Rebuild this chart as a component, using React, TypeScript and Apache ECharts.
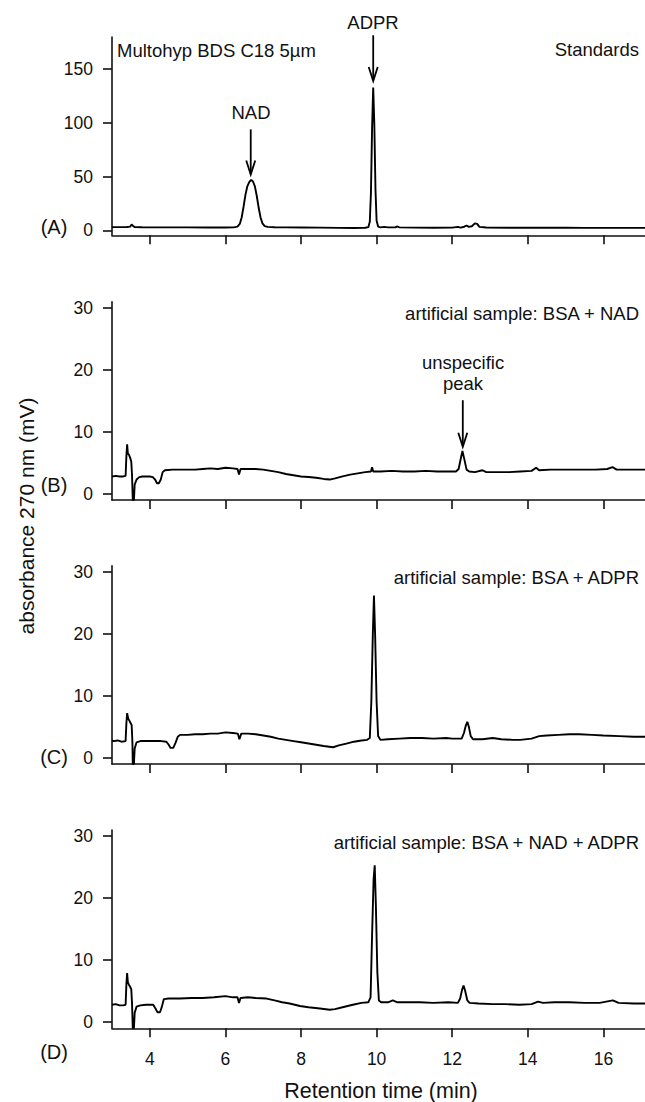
import React, { useEffect, useRef } from "react";
import * as echarts from "echarts";

// ---- data ----
const xTicks = [4, 6, 8, 10, 12, 14, 16];
const yTicksA = [0, 50, 100, 150];
const yTicksBCD = [0, 10, 20, 30];
const panelLabels = ["(A)", "(B)", "(C)", "(D)"];
const panelTitles = [
  "Standards",
  "artificial sample: BSA + NAD",
  "artificial sample: BSA + ADPR",
  "artificial sample: BSA + NAD + ADPR",
];

const traceA: number[][] = [
  [3.0, 3.0], [3.2, 3.0], [3.4, 3.1], [3.48, 3.5], [3.52, 5.5], [3.56, 4.0], [3.6, 3.0], [3.8, 2.9],
  [4.2, 2.8], [4.6, 2.8], [5.0, 2.8], [5.5, 2.7], [6.0, 2.7], [6.22, 2.8], [6.32, 3.5], [6.38, 6],
  [6.43, 12], [6.48, 22], [6.53, 33], [6.58, 41], [6.63, 45], [6.68, 47], [6.73, 45.5], [6.78, 41],
  [6.83, 32], [6.88, 21], [6.93, 12], [6.98, 6.5], [7.04, 4], [7.12, 3.2], [7.3, 2.9], [7.6, 2.8],
  [8.0, 2.7], [8.5, 2.5], [9.0, 2.3], [9.4, 2.2], [9.7, 2.4], [9.78, 3.0], [9.82, 8], [9.85, 35],
  [9.88, 95], [9.91, 133], [9.94, 98], [9.97, 38], [10.0, 9], [10.04, 3.5], [10.1, 2.8], [10.2, 3.2],
  [10.3, 2.8], [10.5, 2.9], [10.55, 3.6], [10.6, 2.8], [11.0, 2.5], [11.5, 2.4], [12.0, 2.5],
  [12.15, 3.2], [12.22, 2.6], [12.32, 3.4], [12.38, 4.5], [12.44, 3.2], [12.52, 3.8], [12.6, 6.5],
  [12.66, 6.0], [12.72, 3.2], [12.9, 2.6], [13.5, 2.4], [14.0, 2.5], [14.5, 2.4], [15.0, 2.4],
  [15.5, 2.3], [16.0, 2.3], [16.5, 2.3], [17.1, 2.3],
];

const traceB: number[][] = [
  [3.0, 2.8], [3.1, 2.9], [3.2, 2.8], [3.3, 2.8], [3.36, 2.9], [3.38, 6], [3.4, 8.0], [3.42, 6.5],
  [3.45, 6.3], [3.48, 5.8], [3.51, 5.2], [3.53, 3], [3.55, -1], [3.58, -1], [3.6, 1.5], [3.65, 2.3],
  [3.72, 2.7], [3.8, 2.8], [3.9, 2.8], [4.0, 2.8], [4.08, 2.7], [4.14, 2.3], [4.19, 1.7], [4.24, 1.7],
  [4.29, 2.3], [4.34, 3.5], [4.4, 3.8], [4.6, 3.9], [4.8, 3.9], [5.0, 3.9], [5.2, 3.9], [5.4, 4.0],
  [5.6, 4.1], [5.8, 4.0], [6.0, 4.2], [6.2, 4.1], [6.32, 4.0], [6.36, 3.1], [6.4, 4.0], [6.6, 4.0],
  [6.8, 4.0], [7.0, 3.9], [7.2, 3.7], [7.4, 3.5], [7.6, 3.2], [7.8, 3.0], [8.0, 2.8], [8.2, 2.7],
  [8.4, 2.6], [8.6, 2.4], [8.76, 2.3], [8.9, 2.5], [9.1, 2.8], [9.3, 3.1], [9.5, 3.3], [9.7, 3.5],
  [9.85, 3.6], [9.88, 4.3], [9.91, 3.6], [10.1, 3.6], [10.4, 3.7], [10.7, 3.6], [11.0, 3.6],
  [11.3, 3.7], [11.6, 3.6], [11.9, 3.6], [12.1, 3.6], [12.17, 4.0], [12.22, 5.5], [12.27, 6.9],
  [12.32, 5.6], [12.38, 3.9], [12.45, 3.6], [12.6, 3.5], [12.8, 3.8], [12.9, 3.5], [13.2, 3.5],
  [13.5, 3.5], [13.8, 3.6], [14.1, 3.7], [14.22, 4.2], [14.3, 3.8], [14.6, 3.9], [15.0, 3.9],
  [15.4, 3.9], [15.8, 3.9], [16.1, 4.0], [16.24, 4.3], [16.35, 3.9], [16.7, 3.9], [17.1, 3.9],
];

const traceC: number[][] = [
  [3.0, 2.8], [3.05, 2.7], [3.15, 2.8], [3.25, 2.6], [3.36, 2.7], [3.38, 5.5], [3.4, 7.2], [3.43, 6.3],
  [3.46, 6.0], [3.49, 5.6], [3.52, 5.3], [3.54, 2.5], [3.55, -1], [3.58, -1], [3.6, 1.5], [3.65, 2.5],
  [3.75, 2.7], [3.9, 2.7], [4.1, 2.7], [4.3, 2.7], [4.44, 2.6], [4.5, 2.1], [4.55, 1.6], [4.62, 1.6],
  [4.68, 2.4], [4.74, 3.4], [4.8, 3.7], [5.0, 3.7], [5.2, 3.8], [5.4, 3.8], [5.6, 3.9], [5.8, 3.9],
  [6.0, 4.1], [6.2, 4.0], [6.33, 3.9], [6.37, 3.0], [6.42, 3.9], [6.6, 3.9], [6.8, 3.8], [7.0, 3.6],
  [7.2, 3.4], [7.4, 3.1], [7.6, 2.9], [7.8, 2.7], [8.0, 2.5], [8.2, 2.3], [8.4, 2.1], [8.6, 1.9],
  [8.85, 1.7], [9.0, 2.0], [9.2, 2.3], [9.4, 2.6], [9.6, 2.8], [9.75, 2.9], [9.82, 3.2], [9.86, 9],
  [9.9, 20], [9.93, 26.2], [9.96, 20], [10.0, 9], [10.04, 3.5], [10.1, 2.9], [10.3, 3.0], [10.6, 3.1],
  [10.9, 3.2], [11.2, 3.2], [11.5, 3.1], [11.84, 3.2], [12.0, 3.1], [12.25, 3.1], [12.31, 4.0],
  [12.36, 5.2], [12.4, 5.8], [12.44, 5.0], [12.49, 3.5], [12.55, 3.0], [12.8, 3.0], [13.07, 3.2],
  [13.3, 3.0], [13.6, 2.9], [13.8, 2.9], [14.1, 3.1], [14.3, 3.5], [14.5, 3.6], [14.8, 3.7],
  [15.1, 3.8], [15.36, 3.8], [15.7, 3.7], [16.0, 3.6], [16.42, 3.5], [16.8, 3.4], [17.1, 3.4],
];

const traceD: number[][] = [
  [3.0, 2.8], [3.1, 2.9], [3.2, 2.7], [3.3, 2.7], [3.36, 2.8], [3.38, 6], [3.4, 7.9], [3.42, 6.4],
  [3.45, 6.0], [3.48, 5.7], [3.51, 5.3], [3.53, 3], [3.55, -1], [3.58, -1], [3.6, 1.5], [3.65, 2.5],
  [3.75, 2.7], [3.9, 2.8], [4.09, 2.8], [4.15, 2.2], [4.2, 1.6], [4.27, 1.6], [4.32, 2.5], [4.37, 3.7],
  [4.5, 3.8], [4.8, 3.8], [5.1, 3.9], [5.4, 3.9], [5.7, 4.0], [6.0, 4.2], [6.2, 4.0], [6.32, 4.0],
  [6.36, 3.1], [6.4, 3.9], [6.6, 4.0], [6.8, 3.9], [7.09, 3.8], [7.3, 3.5], [7.5, 3.2], [7.7, 3.0],
  [7.97, 2.6], [8.2, 2.4], [8.5, 2.2], [8.76, 2.0], [8.9, 2.1], [9.1, 2.4], [9.37, 2.8], [9.6, 3.1],
  [9.78, 3.2], [9.84, 4], [9.88, 14], [9.92, 23], [9.95, 25.3], [9.98, 19], [10.02, 8], [10.06, 3.5],
  [10.12, 3.2], [10.3, 3.2], [10.43, 3.5], [10.55, 3.2], [10.8, 3.2], [11.14, 3.2], [11.5, 3.1],
  [11.9, 3.2], [12.15, 3.1], [12.21, 3.8], [12.26, 5.2], [12.3, 5.9], [12.34, 5.1], [12.4, 3.5],
  [12.46, 3.1], [12.7, 3.0], [13.07, 2.9], [13.4, 2.9], [13.78, 2.8], [14.1, 2.9], [14.27, 3.3],
  [14.4, 3.1], [14.7, 3.2], [15.1, 3.2], [15.5, 3.1], [15.9, 3.1], [16.25, 3.5], [16.4, 3.1],
  [16.8, 3.0], [17.1, 3.0],
];

const traces = [traceA, traceB, traceC, traceD];
const yRanges = [[-4.6, 180], [-1, 31], [-1, 31], [-1, 31]];
const yTickSets = [yTicksA, yTicksBCD, yTicksBCD, yTicksBCD];

// arrows in data coordinates: panel, x, y of tail, y of tip
const arrows = [
  { panel: 0, x: 6.67, yFrom: 94, yTo: 52 },
  { panel: 0, x: 9.91, yFrom: 181.6, yTo: 139 },
  { panel: 1, x: 12.28, yFrom: 15.1, yTo: 7.6 },
];

// ---- layout ----
const W = 645;
const H = 1102;
const FONT = "'Liberation Sans', Arial, Helvetica, sans-serif";
const INK = "#111";
const gridTops = [37, 301.7, 565.7, 830];
const gridHeight = 198.3;
const gridLeft = 112;
const labelYs = [227, 485, 757, 1052];
const titleYs = [49, 313, 577, 842];

export default function App() {
  const ref = useRef<HTMLDivElement>(null);

  useEffect(() => {
    if (!ref.current) return;
    const chart = echarts.init(ref.current, null, { renderer: "svg", width: W, height: H });

    const grids = gridTops.map((top) => ({
      left: gridLeft,
      right: 0,
      top,
      height: gridHeight,
      containLabel: false,
      outerBoundsMode: "none",
    }));

    const xAxes = gridTops.map((_, i) => ({
      type: "value",
      gridIndex: i,
      min: 3,
      max: 17.1,
      axisLine: { show: true, onZero: false, lineStyle: { color: INK, width: 1.6 } },
      axisTick: { show: true, inside: false, length: 9, customValues: xTicks, lineStyle: { color: INK, width: 1.6 } },
      axisLabel: {
        show: i === 3,
        customValues: xTicks,
        margin: 22,
        fontSize: 17.5,
        color: INK,
        fontFamily: FONT,
      },
      splitLine: { show: false },
    }));

    const yAxes = gridTops.map((_, i) => ({
      type: "value",
      gridIndex: i,
      min: yRanges[i][0],
      max: yRanges[i][1],
      axisLine: { show: true, onZero: false, lineStyle: { color: INK, width: 1.6 } },
      axisTick: { show: true, inside: false, length: 9, customValues: yTickSets[i], lineStyle: { color: INK, width: 1.6 } },
      axisLabel: {
        show: true,
        customValues: yTickSets[i],
        margin: 19,
        fontSize: 17.5,
        color: INK,
        fontFamily: FONT,
      },
      splitLine: { show: false },
    }));

    const series = traces.map((data, i) => ({
      type: "line",
      xAxisIndex: i,
      yAxisIndex: i,
      data,
      symbol: "none",
      showSymbol: false,
      clip: true,
      lineStyle: { color: "#000", width: 1.9 },
    }));

    chart.setOption({
      animation: false,
      backgroundColor: "#fff",
      textStyle: { fontFamily: FONT },
      grid: grids,
      xAxis: xAxes,
      yAxis: yAxes,
      series,
    });

    const txt = (text: string, x: number, y: number, align: string, size = 18.5, extra: any = {}) => ({
      type: "text",
      x,
      y,
      silent: true,
      ...extra,
      style: {
        text,
        fill: INK,
        font: `${size}px ${FONT}`,
        fontSize: size,
        fontFamily: FONT,
        align,
        verticalAlign: "middle",
      },
    });

    const graphics: any[] = [];
    graphics.push(txt("Multohyp BDS C18 5µm", 117, 50, "left"));
    panelTitles.forEach((t, i) => graphics.push(txt(t, 639, titleYs[i], "right")));
    graphics.push(txt("NAD", 251, 112, "center"));
    graphics.push(txt("ADPR", 373, 22, "center"));
    graphics.push(txt("unspecific", 463, 362, "center"));
    graphics.push(txt("peak", 463, 383, "center"));
    panelLabels.forEach((t, i) => graphics.push(txt(t, 54, labelYs[i], "center", 20)));
    graphics.push(txt("Retention time (min)", 381, 1091, "center", 21.5));
    graphics.push(txt("absorbance 270 nm (mV)", 26, 516, "center", 21, { rotation: Math.PI / 2 }));

    arrows.forEach((a) => {
      const p0 = chart.convertToPixel({ gridIndex: a.panel } as any, [a.x, a.yFrom]) as number[];
      const p1 = chart.convertToPixel({ gridIndex: a.panel } as any, [a.x, a.yTo]) as number[];
      const x = p0[0];
      graphics.push({
        type: "line",
        silent: true,
        shape: { x1: x, y1: p0[1], x2: x, y2: p1[1] - 1 },
        style: { stroke: "#000", lineWidth: 1.8 },
      });
      graphics.push({
        type: "polyline",
        silent: true,
        shape: { points: [[x - 4.5, p1[1] - 14], [x, p1[1]], [x + 4.5, p1[1] - 14]] },
        style: { stroke: "#000", lineWidth: 1.8, fill: "none" },
      });
    });

    chart.setOption({ graphic: graphics });

    return () => chart.dispose();
  }, []);

  return (
    <div
      ref={ref}
      style={{ position: "absolute", left: 0, top: 0, width: W, height: H, background: "#fff" }}
    />
  );
}
